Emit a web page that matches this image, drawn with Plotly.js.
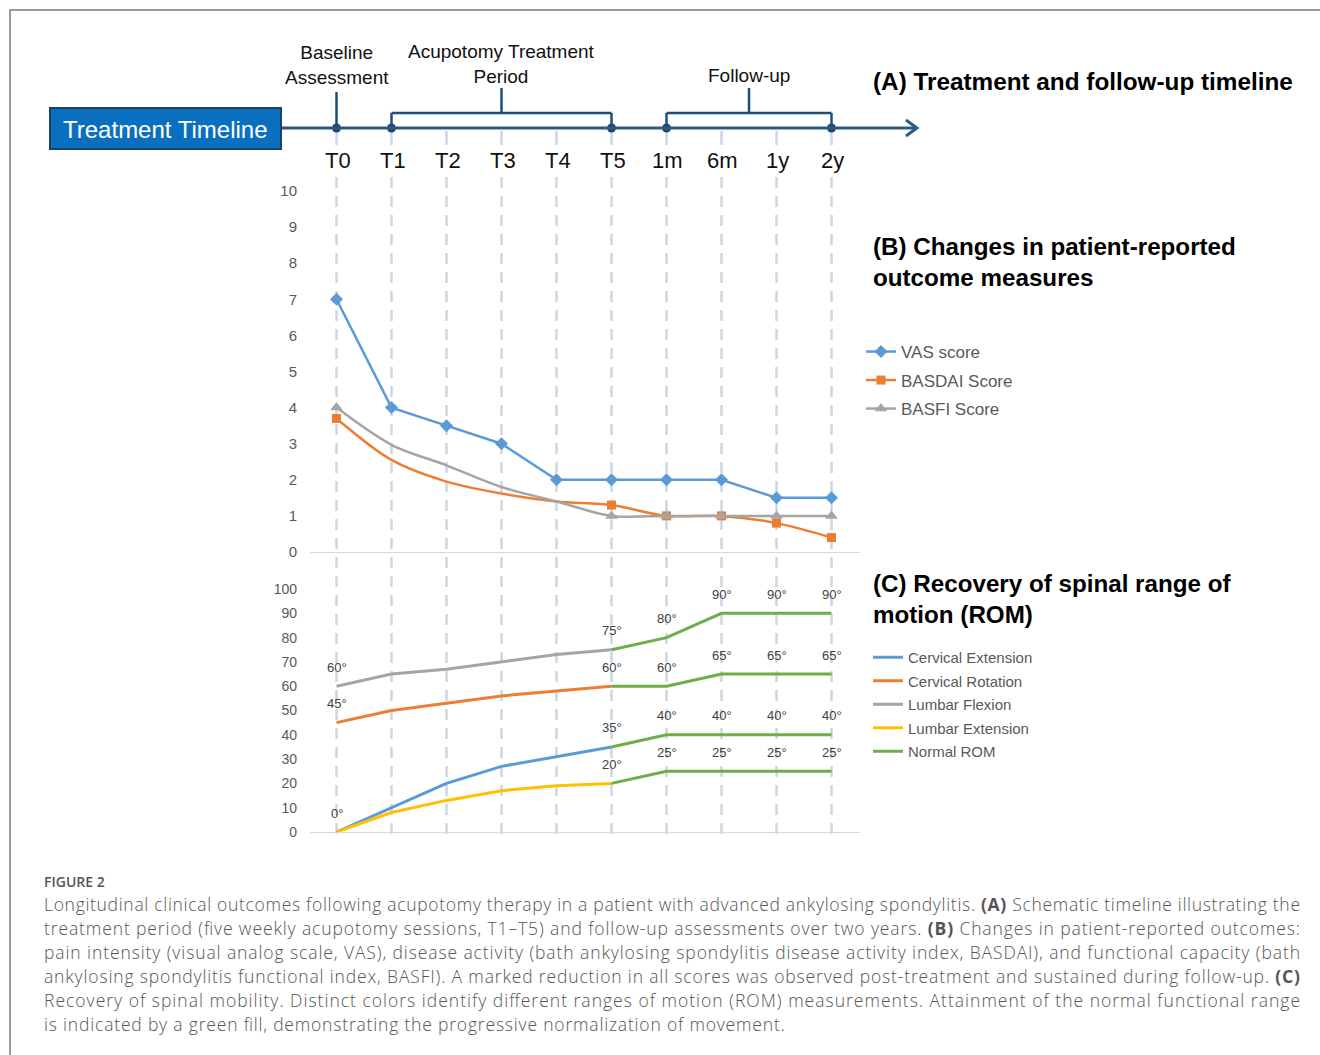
<!DOCTYPE html>
<html><head><meta charset="utf-8">
<script src="https://cdn.plot.ly/plotly-3.0.1.min.js"></script>
<style>html,body{margin:0;padding:0;background:#fff;} #chart{width:1320px;height:1055px;}</style>
</head><body><div id="chart"></div>
<script>
// ---------- data ----------
const timepoints = ['T0','T1','T2','T3','T4','T5','1m','6m','1y','2y'];
const timelineNodes = ['T0','T1','T5','1m','2y'];
const vasScore    = [7, 4, 3.5, 3, 2, 2, 2, 2, 1.5, 1.5];
const basdaiScore = [3.7, 2.55, 1.95, 1.62, 1.4, 1.3, 1.0, 1.0, 0.8, 0.4];
const basfiScore  = [4.0, 2.97, 2.4, 1.8, 1.4, 1.0, 1.0, 1.0, 1.0, 1.0];
const treatmentPoints = ['T0','T1','T2','T3','T4','T5'];
const followPoints    = ['T5','1m','6m','1y','2y'];
const cervicalExtension = [0, 10, 20, 27, 31, 35];
const cervicalRotation  = [45, 50, 53, 56, 58, 60];
const lumbarFlexion     = [60, 65, 67, 70, 73, 75];
const lumbarExtension   = [0, 8, 13, 17, 19, 20];
const normalFlexion  = [75, 80, 90, 90, 90];
const normalRotation = [60, 60, 65, 65, 65];
const normalCervExt  = [35, 40, 40, 40, 40];
const normalLumbExt  = [20, 25, 25, 25, 25];
const captionLines = [
 'Longitudinal clinical outcomes following acupotomy therapy in a patient with advanced ankylosing spondylitis. <b>(A)</b> Schematic timeline illustrating the',
 'treatment period (five weekly acupotomy sessions, T1–T5) and follow-up assessments over two years. <b>(B)</b> Changes in patient-reported outcomes:',
 'pain intensity (visual analog scale, VAS), disease activity (bath ankylosing spondylitis disease activity index, BASDAI), and functional capacity (bath',
 'ankylosing spondylitis functional index, BASFI). A marked reduction in all scores was observed post-treatment and sustained during follow-up. <b>(C)</b>',
 'Recovery of spinal mobility. Distinct colors identify different ranges of motion (ROM) measurements. Attainment of the normal functional range',
 'is indicated by a green fill, demonstrating the progressive normalization of movement.'
];

// ---------- helpers ----------
const W = 1320, H = 1055;
const px = v => v / W;
const py = v => 1 - v / H;
const F = 'Liberation Sans, Arial, sans-serif';
const idx = c => timepoints.indexOf(c);
const BLUE = '#5b9bd5', ORANGE = '#ed7d31', GREY = '#a5a5a5', YELLOW = '#ffc000', GREEN = '#70ad47';
const NAVY = '#1f4e79', TL = '#2c5985';
const hidden = 'rgba(0,0,0,0)';

// ---------- traces ----------
const traces = [];
traces.push({x: timelineNodes, y: timelineNodes.map(() => 0), xaxis: 'x3', yaxis: 'y3', mode: 'markers',
  marker: {size: 9, color: '#22466e'}, showlegend: false, hoverinfo: 'skip'});

// panel B (markers hidden on the smoothed stretch T1–T4)
const bColors = (col) => timepoints.map((c, i) => (i >= 1 && i <= 4) ? hidden : col);
traces.push({name: 'VAS score', x: timepoints, y: vasScore, xaxis: 'x', yaxis: 'y', mode: 'lines+markers',
  line: {color: BLUE, width: 2.5}, marker: {symbol: 'diamond', size: 10, color: BLUE}, legend: 'legend', legendgroup: 'b1'});
traces.push({name: 'BASDAI Score', x: timepoints, y: basdaiScore, xaxis: 'x', yaxis: 'y', mode: 'lines+markers',
  line: {color: ORANGE, width: 2.5, shape: 'spline', smoothing: 0.9}, marker: {symbol: 'square', size: 9, color: bColors(ORANGE)}, legend: 'legend', legendgroup: 'b2'});
traces.push({name: 'BASFI Score', x: timepoints, y: basfiScore, xaxis: 'x', yaxis: 'y', mode: 'lines+markers',
  line: {color: GREY, width: 2.5, shape: 'spline', smoothing: 0.9}, marker: {symbol: 'triangle-up', size: 11, color: bColors(GREY)}, legend: 'legend', legendgroup: 'b3'});

// panel C
const romSeries = [
  {name: 'Cervical Extension', y: cervicalExtension, color: BLUE},
  {name: 'Cervical Rotation', y: cervicalRotation, color: ORANGE},
  {name: 'Lumbar Flexion', y: lumbarFlexion, color: GREY},
  {name: 'Lumbar Extension', y: lumbarExtension, color: YELLOW}
];
romSeries.forEach((s, k) => traces.push({name: s.name, x: treatmentPoints, y: s.y, xaxis: 'x2', yaxis: 'y2', mode: 'lines',
  line: {color: s.color, width: 3}, legend: 'legend2', legendgroup: 'c' + k}));
[normalFlexion, normalRotation, normalCervExt, normalLumbExt].forEach((ys, k) => traces.push({name: 'Normal ROM',
  x: followPoints, y: ys, xaxis: 'x2', yaxis: 'y2', mode: 'lines', line: {color: GREEN, width: 3},
  legend: 'legend2', legendgroup: 'c4', showlegend: k === 0}));

// ---------- shapes ----------
const shapes = [];
shapes.push({type: 'rect', xref: 'paper', yref: 'paper', x0: px(10), x1: 1.02, y0: -0.02, y1: py(10), line: {color: '#7a7a7a', width: 1.5}});
timepoints.forEach(c => {
  shapes.push({type: 'line', xref: 'x', yref: 'paper', x0: c, x1: c, y0: py(131), y1: py(145), layer: 'below', line: {color: '#cbd7e3', width: 2.5}});
  shapes.push({type: 'line', xref: 'x', yref: 'paper', x0: c, x1: c, y0: py(177), y1: py(837), layer: 'below', line: {color: '#cbd7e3', width: 2.5, dash: '11px,8px'}});
});
shapes.push({type: 'line', xref: 'paper', yref: 'paper', x0: px(281), x1: px(916), y0: py(128), y1: py(128), line: {color: TL, width: 3}});
shapes.push({type: 'path', xref: 'paper', yref: 'paper', path: `M ${px(906)},${py(120)} L ${px(917)},${py(128)} L ${px(906)},${py(136)}`, line: {color: TL, width: 3}});
shapes.push({type: 'rect', xref: 'paper', yref: 'paper', x0: px(50), x1: px(281), y0: py(149), y1: py(108), fillcolor: '#0b6fc0', line: {color: '#1d4163', width: 2}});
shapes.push({type: 'line', xref: 'x3', yref: 'paper', x0: 'T0', x1: 'T0', y0: py(128), y1: py(92), line: {color: NAVY, width: 2.5}});
function bracket(a, b) {
  const i0 = idx(a), i1 = idx(b), mid = (i0 + i1) / 2;
  const st = {color: NAVY, width: 2.5};
  shapes.push({type: 'line', xref: 'x3', yref: 'paper', x0: i0, x1: i1, y0: py(113), y1: py(113), line: st});
  shapes.push({type: 'line', xref: 'x3', yref: 'paper', x0: i0, x1: i0, y0: py(113), y1: py(127), line: st});
  shapes.push({type: 'line', xref: 'x3', yref: 'paper', x0: i1, x1: i1, y0: py(113), y1: py(127), line: st});
  shapes.push({type: 'line', xref: 'x3', yref: 'paper', x0: mid, x1: mid, y0: py(113), y1: py(88), line: st});
  return mid;
}
const midTreat = bracket('T1', 'T5');
const midFollow = bracket('1m', '2y');

// ---------- annotations ----------
const ann = [];
const A = (o) => { ann.push(Object.assign({showarrow: false, xref: 'paper', yref: 'paper', xanchor: 'center', yanchor: 'middle'}, o)); return ann.length - 1; };
A({x: px(165.5), y: py(129), text: 'Treatment Timeline', font: {family: F, size: 24, color: '#ffffff'}});
A({xref: 'x3', x: 'T0', y: py(64.5), text: 'Baseline<br>Assessment', font: {family: F, size: 19, color: '#111'}});
A({xref: 'x3', x: midTreat, y: py(64), text: 'Acupotomy Treatment<br>Period', font: {family: F, size: 19, color: '#111'}});
A({xref: 'x3', x: midFollow, y: py(76), text: 'Follow-up', font: {family: F, size: 19, color: '#111'}});
timepoints.forEach(c => A({xref: 'x3', x: c, y: py(160), xshift: 1, text: c, font: {family: F, size: 22, color: '#111'}}));
A({x: px(871), y: py(81), xanchor: 'left', text: '<b>(A) Treatment and follow-up timeline</b>', font: {family: F, size: 24.3, color: '#000'}});
A({x: px(871), y: py(262), xanchor: 'left', align: 'left', text: '<b>(B) Changes in patient-reported<br>outcome measures</b>', font: {family: F, size: 24.2, color: '#000'}});
A({x: px(871), y: py(599), xanchor: 'left', align: 'left', text: '<b>(C) Recovery of spinal range of<br>motion (ROM)</b>', font: {family: F, size: 24.2, color: '#000'}});
function degLabels(xs, ys, which) {
  which.forEach(i => ann.push({xref: 'x2', yref: 'y2', x: xs[i], y: ys[i], text: ys[i] + '°', showarrow: false, yshift: 19,
    xanchor: 'center', yanchor: 'middle', font: {family: F, size: 13, color: '#404040'}}));
}
degLabels(treatmentPoints, lumbarFlexion, [0, 5]);
degLabels(treatmentPoints, cervicalRotation, [0, 5]);
degLabels(treatmentPoints, cervicalExtension, [0, 5]);
degLabels(treatmentPoints, lumbarExtension, [5]);
[normalFlexion, normalRotation, normalCervExt, normalLumbExt].forEach(ys => degLabels(followPoints, ys, [1, 2, 3, 4]));
const CF = 'Open Sans, Noto Sans, sans-serif';
A({x: px(42), y: py(881), xanchor: 'left', text: 'FIGURE 2', font: {family: CF, size: 14, color: '#555', weight: 600}});
const capIdx = captionLines.map((t, i) => A({x: px(42), y: py(904 + 24 * i), xanchor: 'left', align: 'left', text: t,
  font: {family: CF, size: 17.5, color: '#555', weight: 300}}));

// ---------- layout ----------
const xDomain = [px(310), px(860)];
const xRange = [-0.4818, 9.518];
const baseX = {domain: xDomain, range: xRange, type: 'category', categoryorder: 'array', categoryarray: timepoints,
  showgrid: false, zeroline: false, ticks: '', showticklabels: false, fixedrange: true};
const baseY = {showgrid: false, zeroline: false, showline: false, ticks: '', fixedrange: true, ticklabelstandoff: 12};
const layout = {
  width: W, height: H, margin: {l: 0, r: 0, t: 0, b: 0}, paper_bgcolor: '#fff', plot_bgcolor: 'rgba(0,0,0,0)',
  font: {family: F}, hovermode: false,
  xaxis: Object.assign({}, baseX, {anchor: 'y', showline: true, linecolor: '#d9d9d9', linewidth: 1}),
  xaxis2: Object.assign({}, baseX, {anchor: 'y2', showline: true, linecolor: '#d9d9d9', linewidth: 1}),
  xaxis3: Object.assign({}, baseX, {anchor: 'y3', showline: false}),
  yaxis: Object.assign({}, baseY, {anchor: 'x', domain: [py(552), py(191)], range: [0, 10], dtick: 1, tick0: 0,
    tickfont: {family: F, size: 15, color: '#595959'}}),
  yaxis2: Object.assign({}, baseY, {anchor: 'x2', domain: [py(832), py(589)], range: [0, 100], dtick: 10, tick0: 0,
    tickfont: {family: F, size: 14, color: '#595959'}}),
  yaxis3: {anchor: 'x3', domain: [py(138), py(118)], range: [-1, 1], visible: false, fixedrange: true},
  legend: {x: px(861), y: py(334), xanchor: 'left', yanchor: 'top', bgcolor: 'rgba(0,0,0,0)', traceorder: 'grouped',
    tracegroupgap: 3.4, itemwidth: 30, font: {family: F, size: 17, color: '#595959'}},
  legend2: {x: px(868), y: py(641), xanchor: 'left', yanchor: 'top', bgcolor: 'rgba(0,0,0,0)', traceorder: 'grouped',
    tracegroupgap: 1, itemwidth: 30, font: {family: F, size: 15, color: '#595959'}},
  shapes: shapes, annotations: ann
};
Plotly.newPlot('chart', traces, layout, {displayModeBar: false, staticPlot: true}).then(gd => {
  // justify the caption lines like the printed figure
  const full = 1256;
  const els = capIdx.map(i => gd.querySelector('.annotation[data-index="' + i + '"] text.annotation-text'));
  if (!els[0]) return;
  const factor = full / els[0].getComputedTextLength();
  els.forEach((el, k) => {
    if (!el) return;
    const L = k < els.length - 1 ? full : el.getComputedTextLength() * factor * 1.012;
    el.setAttribute('textLength', L);
    el.setAttribute('lengthAdjust', 'spacing');
  });
});
</script></body></html>
